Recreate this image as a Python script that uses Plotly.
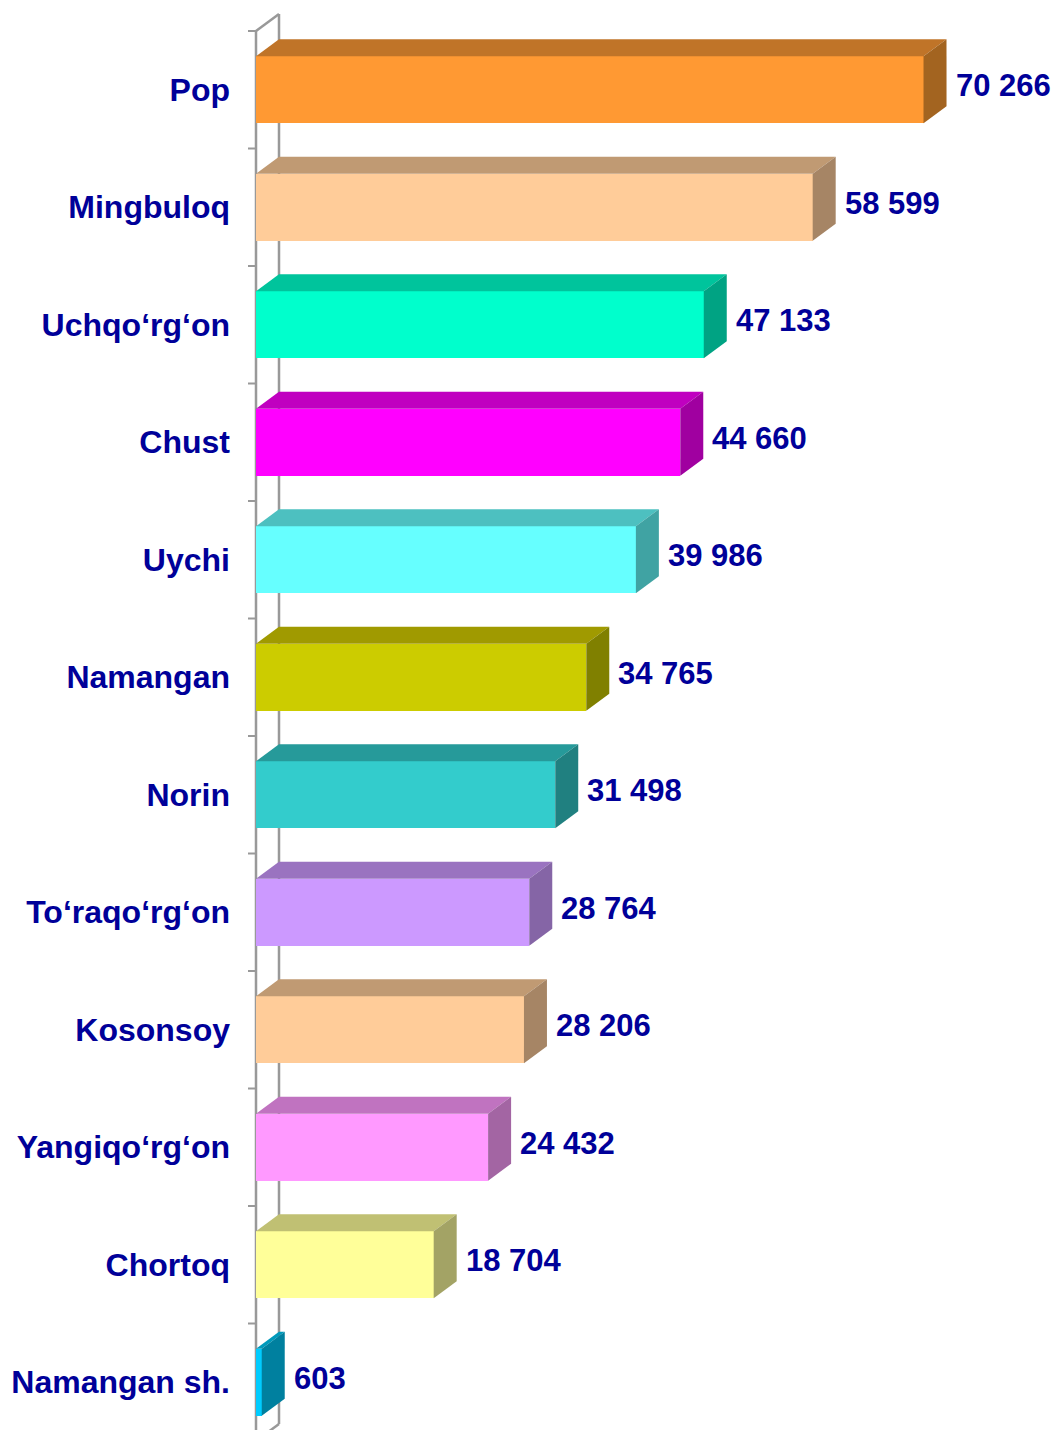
import plotly.graph_objects as go

categories = ["Pop", "Mingbuloq", "Uchqo‘rg‘on", "Chust", "Uychi", "Namangan", "Norin",
              "To‘raqo‘rg‘on", "Kosonsoy", "Yangiqo‘rg‘on", "Chortoq", "Namangan sh."]
values = [70266, 58599, 47133, 44660, 39986, 34765, 31498, 28764, 28206, 24432, 18704, 603]
value_labels = ["70 266", "58 599", "47 133", "44 660", "39 986", "34 765", "31 498",
                "28 764", "28 206", "24 432", "18 704", "603"]
front_colors = ["#FF9933", "#FFCC99", "#00FFCC", "#FF00FF", "#66FFFF", "#CCCC00", "#33CCCC",
                "#CC99FF", "#FFCC99", "#FF99FF", "#FFFF99", "#00CCFF"]
top_colors = ["#C07428", "#C09A73", "#00C49C", "#C000C0", "#4DC0C0", "#A09A00", "#269A9A",
              "#9A73C0", "#C09A73", "#C073C0", "#C0C073", "#0099BB"]
side_colors = ["#A36420", "#A68565", "#00A383", "#A000A0", "#40A3A3", "#808000", "#208080",
               "#8565A6", "#A68565", "#A365A3", "#A3A365", "#00809F"]

# page body has an 8px margin, so the figure is drawn 8px in from the top-left
W, H = 1045, 1422
L = 236                 # plot left margin (px)
AX_PX = 248             # x pixel of value 0 (figure coords)
PPU = 0.0095            # px per unit
CAT_PX = 117.5          # px per category
TOP_PX = 23             # px of first category boundary (figure coords)
DX_PX, DY_PX = 23, 17   # 3D depth offset

xmin = -(AX_PX - L) / PPU
xmax = xmin + (W - L) / PPU
ytop = -0.5 - TOP_PX / CAT_PX
ybot = -0.5 + (H - TOP_PX) / CAT_PX
D = DX_PX / PPU
E = DY_PX / CAT_PX
hw = 0.57 / 2
n = len(categories)
ys = list(range(n))

fig = go.Figure()
fig.add_trace(go.Bar(
    x=values, y=ys, orientation="h", width=0.57, base=0,
    marker=dict(color=front_colors, line=dict(width=0)),
    hoverinfo="skip", showlegend=False,
))

shapes = []
grey = "#999999"
wall = dict(color=grey, width=2.5)
# walls
shapes.append(dict(type="line", xref="x", yref="y", x0=0, y0=-0.5, x1=0, y1=ybot + 1,
                   line=wall, layer="below"))
shapes.append(dict(type="line", xref="x", yref="y", x0=D, y0=-0.5 - E, x1=D, y1=n - 0.5 - E,
                   line=wall, layer="below"))
shapes.append(dict(type="line", xref="x", yref="y", x0=0, y0=-0.5, x1=D, y1=-0.5 - E,
                   line=wall, layer="below"))
shapes.append(dict(type="line", xref="x", yref="y", x0=D, y0=n - 0.5 - E, x1=0, y1=n - 0.5,
                   line=wall, layer="below"))
# ticks at category boundaries
for k in range(n):
    yb = k - 0.5
    shapes.append(dict(type="line", xref="x", yref="y", x0=-8 / PPU, y0=yb, x1=0, y1=yb,
                       line=dict(color=grey, width=2), layer="below"))

for i, v in enumerate(values):
    y0 = i - hw
    y1 = i + hw
    shapes.append(dict(type="path", xref="x", yref="y",
                       path=f"M 0,{y0} L {D},{y0 - E} L {v + D},{y0 - E} L {v},{y0} Z",
                       fillcolor=top_colors[i], line=dict(width=0)))
    shapes.append(dict(type="path", xref="x", yref="y",
                       path=f"M {v},{y0} L {v + D},{y0 - E} L {v + D},{y1 - E} L {v},{y1} Z",
                       fillcolor=side_colors[i], line=dict(width=0)))

font_main = dict(family="Liberation Sans, Arial, sans-serif", size=32, color="#000099", weight="bold")
font_vals = dict(family="Liberation Sans, Arial, sans-serif", size=31, color="#000099", weight="bold")

annotations = []
for i, v in enumerate(values):
    annotations.append(dict(x=v + D, y=i, xref="x", yref="y", text=value_labels[i],
                            showarrow=False, xanchor="left", yanchor="middle",
                            xshift=7, yshift=4, font=font_vals))

fig.update_layout(
    width=W, height=H,
    margin=dict(l=L, r=0, t=0, b=0),
    paper_bgcolor="white", plot_bgcolor="white",
    shapes=shapes, annotations=annotations,
    xaxis=dict(range=[xmin, xmax], visible=False, fixedrange=True),
    yaxis=dict(range=[ybot, ytop], tickmode="array", tickvals=ys, ticktext=categories,
               ticks="", showline=False, showgrid=False, zeroline=False,
               tickfont=font_main, ticklabelstandoff=13, fixedrange=True),
    bargap=0,
)

fig.write_html("out.html")
